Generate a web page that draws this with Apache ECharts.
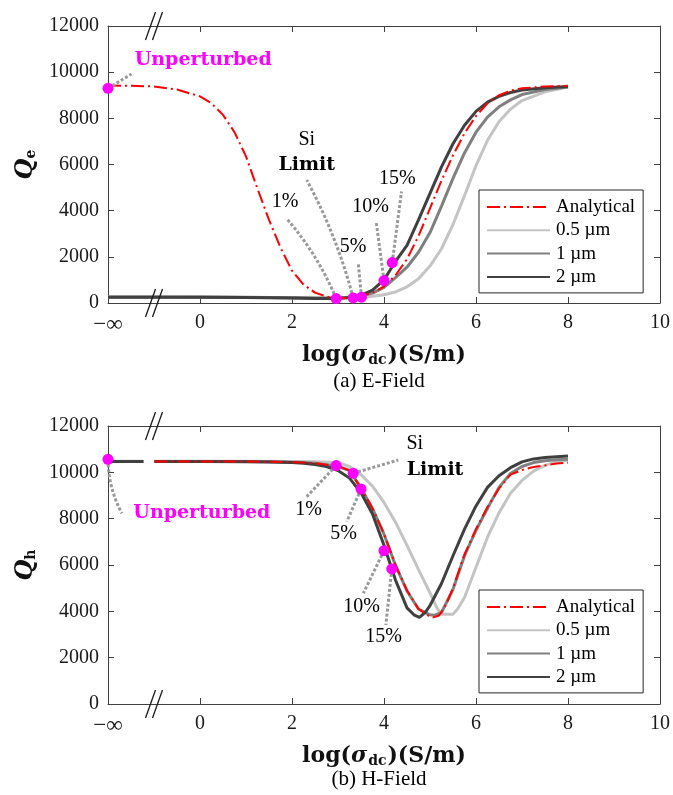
<!DOCTYPE html>
<html>
<head>
<meta charset="utf-8">
<script src="https://cdn.jsdelivr.net/npm/echarts@6/dist/echarts.min.js"></script>
<style>
  html, body { margin: 0; padding: 0; background: #fff; }
  #chart { width: 673px; height: 795px; }
</style>
</head>
<body>
<div id="chart"></div>
<script>
// ---------- (a) E-Field: Qe versus log10(sigma_dc) ----------
const eSimX        = [-2, -1, 0, 1, 2, 2.5, 3, 3.25, 3.5, 3.75, 4, 4.25, 4.5, 4.75, 5, 5.25, 5.5, 5.75, 6, 6.25, 6.5, 6.75, 7, 7.5, 8];
const eHalfMicron  = [255, 255, 250, 240, 225, 215, 215, 225, 250, 290, 360, 480, 700, 1050, 1600, 2350, 3400, 4650, 5950, 7050, 7850, 8400, 8770, 9150, 9360];
const eOneMicron   = [265, 262, 257, 247, 232, 222, 226, 250, 300, 430, 680, 1100, 1550, 2200, 3050, 4200, 5400, 6500, 7400, 8050, 8500, 8800, 9030, 9250, 9360];
const eTwoMicron   = [250, 250, 245, 235, 215, 200, 200, 235, 330, 560, 1000, 1800, 2500, 3600, 4750, 5900, 6900, 7700, 8300, 8700, 8950, 9120, 9230, 9330, 9380];
const eAnalyticalX = [-2, -1.5, -1, -0.5, 0, 0.25, 0.5, 0.75, 1, 1.25, 1.5, 1.75, 2, 2.25, 2.5, 2.75, 3, 3.25, 3.5, 3.75, 4, 4.25, 4.5, 4.75, 5, 5.25, 5.5, 5.75, 6, 6.25, 6.5, 6.75, 7, 7.5, 8];
const eAnalytical  = [9420, 9410, 9380, 9250, 8950, 8650, 8150, 7400, 6350, 4950, 3600, 2400, 1400, 800, 450, 280, 210, 220, 300, 440, 720, 1200, 1900, 2900, 4100, 5300, 6400, 7350, 8100, 8650, 9000, 9200, 9300, 9380, 9410];
// highlighted operating points: unperturbed, 1 %, Si limit, 5 %, 10 %, 15 %
const eMarkX       = [-2, 2.96, 3.33, 3.51, 4.0, 4.18];
const eMarkY       = [9300, 190, 220, 250, 970, 1750];
const eLeaderEndX  = [-1.49, 1.88, 2.32, 3.44, 3.83, 4.38];
const eLeaderEndY  = [9920, 3670, 5330, 1750, 3520, 4830];
const eLeaderBend  = [0, -0.08, -0.06, 0, 0, 0];
const eNoteText    = ['Unperturbed', '1%', 'Si', 'Limit', '5%', '10%', '15%'];
const eNoteX       = [0.07, 1.85, 2.32, 2.32, 3.33, 3.71, 4.29];
const eNoteY       = [10530, 4390, 7060, 5980, 2440, 4170, 5400];

// ---------- (b) H-Field: Qh versus log10(sigma_dc) ----------
const hHalfX       = [-2, -1.23, -1.1, -0.99, 0, 1, 2, 2.5, 3, 3.25, 3.5, 3.75, 4, 4.25, 4.5, 4.75, 5, 5.15, 5.25, 5.5, 5.6, 5.75, 6, 6.25, 6.5, 6.75, 7, 7.25, 7.5, 7.75, 8];
const hHalfMicron  = [10480, 10480, null, 10480, 10480, 10480, 10470, 10460, 10420, 10250, 9900, 9400, 8700, 7850, 6850, 5800, 4800, 4150, 3870, 3870, 4100, 4600, 5900, 7200, 8250, 9100, 9650, 10050, 10300, 10450, 10530];
const hOneX        = [-2, -1.23, -1.1, -0.99, 0, 1, 1.5, 2, 2.25, 2.5, 2.75, 3, 3.25, 3.5, 3.75, 4, 4.25, 4.5, 4.75, 5, 5.1, 5.25, 5.5, 5.75, 6, 6.25, 6.5, 6.75, 7, 7.25, 7.5, 7.75, 8];
const hOneMicron   = [10470, 10470, null, 10470, 10470, 10470, 10460, 10440, 10420, 10390, 10330, 10260, 10080, 9330, 8430, 7330, 5980, 4880, 4100, 3850, 3830, 3950, 4950, 6400, 7500, 8450, 9350, 9950, 10250, 10420, 10500, 10540, 10560];
const hTwoX        = [-2, -1.23, -1.1, -0.99, 0, 1, 1.5, 2, 2.25, 2.5, 2.75, 3, 3.25, 3.5, 3.75, 4, 4.25, 4.5, 4.65, 4.77, 4.9, 5, 5.25, 5.5, 5.75, 6, 6.25, 6.5, 6.75, 7, 7.25, 7.5, 8];
const hTwoMicron   = [10470, 10470, null, 10470, 10470, 10460, 10450, 10420, 10390, 10340, 10250, 10080, 9750, 9120, 8200, 6850, 5350, 4150, 3850, 3740, 3960, 4250, 5200, 6400, 7550, 8550, 9350, 9850, 10200, 10450, 10580, 10640, 10700];
const hAnalyticalX = [-0.99, 0, 1, 1.5, 2, 2.25, 2.5, 2.75, 3, 3.25, 3.5, 3.75, 4, 4.25, 4.5, 4.75, 5, 5.07, 5.2, 5.35, 5.5, 5.75, 6, 6.25, 6.5, 6.75, 7, 7.25, 7.5, 7.75, 8];
const hAnalytical  = [10470, 10470, 10465, 10455, 10440, 10420, 10390, 10330, 10270, 10080, 9320, 8450, 7350, 6000, 4900, 4100, 3760, 3740, 3820, 4300, 5000, 6450, 7550, 8500, 9300, 9900, 10100, 10230, 10300, 10380, 10420];
const hMarkX       = [-2, 2.96, 3.33, 3.5, 4.0, 4.17];
const hMarkY       = [10560, 10290, 9960, 9280, 6620, 5830];
const hLeaderEndX  = [-1.70, 2.32, 4.31, 3.19, 3.55, 4.04];
const hLeaderEndY  = [8230, 8950, 10530, 7870, 4780, 3410];
const hLeaderBend  = [-0.12, 0, 0, 0, 0, 0];
const hNoteText    = ['Unperturbed', '1%', 'Si', 'Limit', '5%', '10%', '15%'];
const hNoteX       = [0.04, 2.36, 4.67, 5.11, 3.12, 3.51, 3.99];
const hNoteY       = [8230, 8370, 11250, 10100, 7370, 4200, 2900];

// ---------- shared axis settings ----------
const xMin = -2, xMax = 10, xStep = 2;
const yMin = 0, yMax = 12000, yStep = 2000;
const seriesNames = ['Analytical', '0.5 µm', '1 µm', '2 µm'];

const SERIF = '"Liberation Serif", "DejaVu Serif", serif';
const WIDE_SERIF = '"DejaVu Serif", "Liberation Serif", serif';
const AXIS_COLOR = '#404040';
const TEXT_COLOR = '#1a1a1a';
const MAGENTA = '#ff00ff';

const pairs = (xs, ys) => xs.map((x, i) => [x, ys[i]]);

function xAxisPair(grid) {
  const common = {
    type: 'value', gridIndex: grid, min: xMin, max: xMax, interval: xStep,
    splitLine: { show: false },
    axisLine: { show: true, onZero: false, lineStyle: { color: AXIS_COLOR, width: 1 } },
    axisTick: { show: true, inside: true, length: 6, lineStyle: { color: AXIS_COLOR } }
  };
  return [
    Object.assign({}, common, {
      position: 'bottom',
      axisLabel: {
        color: TEXT_COLOR, fontFamily: SERIF, fontSize: 20, margin: 10,
        formatter: v => (v === xMin ? '{inf|−∞}' : String(v)),
        rich: { inf: { fontFamily: SERIF, fontSize: 23, color: TEXT_COLOR } }
      },
      name: '{n|log(}{g|σ}{d|dc}{n|)(S/m)}',
      nameLocation: 'middle', nameGap: 40,
      nameTextStyle: {
        rich: {
          n: { fontFamily: WIDE_SERIF, fontWeight: 'bold', fontSize: 22, color: '#111' },
          g: { fontFamily: WIDE_SERIF, fontWeight: 'bold', fontStyle: 'italic', fontSize: 22, color: '#111' },
          d: { fontFamily: WIDE_SERIF, fontWeight: 'bold', fontSize: 14, color: '#111', padding: [10, 1, 0, 1] }
        }
      }
    }),
    Object.assign({}, common, { position: 'top', axisLabel: { show: false } })
  ];
}

function yAxisPair(grid, sub) {
  const common = {
    type: 'value', gridIndex: grid, min: yMin, max: yMax, interval: yStep,
    splitLine: { show: false },
    axisLine: { show: true, onZero: false, lineStyle: { color: AXIS_COLOR, width: 1 } },
    axisTick: { show: true, inside: true, length: 6, lineStyle: { color: AXIS_COLOR } }
  };
  return [
    Object.assign({}, common, {
      position: 'left',
      axisLabel: { color: TEXT_COLOR, fontFamily: SERIF, fontSize: 20, margin: 9, formatter: v => String(v) },
      name: '{q|Q}{s|' + sub + '}',
      nameLocation: 'middle', nameGap: 62, nameRotate: 90,
      nameTextStyle: {
        rich: {
          q: { fontFamily: WIDE_SERIF, fontWeight: 'bold', fontStyle: 'italic', fontSize: 24, color: '#111' },
          s: { fontFamily: WIDE_SERIF, fontWeight: 'bold', fontSize: 14, color: '#111', padding: [10, 0, 0, 0] }
        }
      }
    }),
    Object.assign({}, common, { position: 'right', axisLabel: { show: false } })
  ];
}

function curveSeries(grid, name, data, color, width, type, z) {
  return {
    type: 'line', name, data, xAxisIndex: grid * 2, yAxisIndex: grid * 2,
    showSymbol: false, symbol: 'none', connectNulls: false, smooth: false,
    lineStyle: { color, width, type }, itemStyle: { color }, z,
    animation: false, silent: true
  };
}

function noteLabel(text) {
  if (text === 'Unperturbed') {
    return { color: MAGENTA, fontFamily: WIDE_SERIF, fontWeight: 'bold', fontSize: 19 };
  }
  if (text === 'Limit') {
    return { color: '#000', fontFamily: WIDE_SERIF, fontWeight: 'bold', fontSize: 19 };
  }
  return { color: '#000', fontFamily: SERIF, fontSize: 20 };
}

function annotationSeries(grid, markX, markY, endX, endY, bend, noteText, noteX, noteY) {
  const xi = grid * 2, yi = grid * 2;
  return [
    {
      type: 'lines', coordinateSystem: 'cartesian2d', xAxisIndex: xi, yAxisIndex: yi,
      polyline: false, silent: true, animation: false, z: 5,
      lineStyle: { color: '#999999', width: 3, type: [3, 2], opacity: 1, curveness: 0 },
      data: markX.map((x, i) => ({
        coords: [[x, markY[i]], [endX[i], endY[i]]],
        lineStyle: { curveness: bend[i] }
      }))
    },
    {
      type: 'scatter', xAxisIndex: xi, yAxisIndex: yi, silent: true, animation: false, z: 8,
      symbol: 'circle', symbolSize: 11, itemStyle: { color: MAGENTA, opacity: 1 },
      data: pairs(markX, markY)
    },
    {
      type: 'scatter', xAxisIndex: xi, yAxisIndex: yi, silent: true, animation: false, z: 9,
      symbolSize: 0, itemStyle: { color: 'rgba(0,0,0,0)' },
      data: noteText.map((t, i) => ({
        name: t, value: [noteX[i], noteY[i]],
        label: Object.assign({ show: true, position: 'inside', formatter: '{b}', opacity: 1,
                               textBorderWidth: 0 }, noteLabel(t))
      }))
    }
  ];
}

const DASH_DOT = [13, 4, 2, 4];

const legendStyle = (top) => ({
  orient: 'vertical', left: 479, top, width: 164,
  data: seriesNames,
  backgroundColor: '#fff', borderColor: '#262626', borderWidth: 1,
  padding: [7, 8, 6, 7], itemGap: 3.3, itemWidth: 63, itemHeight: 20,
  selectedMode: false,
  itemStyle: { opacity: 0 },
  textStyle: { fontFamily: SERIF, fontSize: 19, color: '#000', lineHeight: 20, padding: [0, 0, 0, 1] }
});

const option = {
  animation: false,
  backgroundColor: '#fff',
  grid: [
    { left: 108, top: 26, width: 553, height: 277 },
    { left: 108, top: 426, width: 553, height: 278 }
  ],
  xAxis: [...xAxisPair(0), ...xAxisPair(1)],
  yAxis: [...yAxisPair(0, 'e'), ...yAxisPair(1, 'h')],
  legend: [legendStyle(190), legendStyle(590)],
  series: [
    curveSeries(0, '0.5 µm', pairs(eSimX, eHalfMicron), '#c4c4c4', 3, 'solid', 2),
    curveSeries(0, '1 µm', pairs(eSimX, eOneMicron), '#808080', 3, 'solid', 2),
    curveSeries(0, '2 µm', pairs(eSimX, eTwoMicron), '#404040', 3, 'solid', 2),
    curveSeries(0, 'Analytical', pairs(eAnalyticalX, eAnalytical), '#ff0000', 2, DASH_DOT, 3),
    ...annotationSeries(0, eMarkX, eMarkY, eLeaderEndX, eLeaderEndY, eLeaderBend, eNoteText, eNoteX, eNoteY),

    curveSeries(1, '0.5 µm', pairs(hHalfX, hHalfMicron), '#c4c4c4', 3, 'solid', 2),
    curveSeries(1, '1 µm', pairs(hOneX, hOneMicron), '#808080', 3, 'solid', 2),
    curveSeries(1, '2 µm', pairs(hTwoX, hTwoMicron), '#404040', 3, 'solid', 2),
    curveSeries(1, 'Analytical', pairs(hAnalyticalX, hAnalytical), '#ff0000', 2, DASH_DOT, 3),
    ...annotationSeries(1, hMarkX, hMarkY, hLeaderEndX, hLeaderEndY, hLeaderBend, hNoteText, hNoteX, hNoteY)
  ],
  graphic: [
    { type: 'text', id: 'capA', x: 379, y: 381,
      style: { text: '(a) E-Field', font: '21px "Liberation Serif"', fill: '#000', align: 'center', verticalAlign: 'middle' } },
    { type: 'text', id: 'capB', x: 379, y: 779,
      style: { text: '(b) H-Field', font: '21px "Liberation Serif"', fill: '#000', align: 'center', verticalAlign: 'middle' } }
  ]
};

const chart = echarts.init(document.getElementById('chart'), null, { renderer: 'canvas' });
chart.setOption(option);

// axis-break marks "//" drawn at the break position on top and bottom edges
const breakAt = -1;
const breakMarks = [];
[0, 1].forEach(g => {
  const finder = { xAxisIndex: g * 2, yAxisIndex: g * 2 };
  const bottom = chart.convertToPixel(finder, [breakAt, yMin]);
  const top = chart.convertToPixel(finder, [breakAt, yMax]);
  [bottom, top].forEach((p, k) => {
    [-3.5, 3.5].forEach((dx, j) => {
      breakMarks.push({
        type: 'line', id: 'brk' + g + k + j, z: 20,
        shape: { x1: p[0] + dx - 5, y1: p[1] + 14, x2: p[0] + dx + 5, y2: p[1] - 14 },
        style: { stroke: '#1a1a1a', lineWidth: 1.3 }
      });
    });
  });
});
chart.setOption({ graphic: breakMarks });
</script>
</body>
</html>
